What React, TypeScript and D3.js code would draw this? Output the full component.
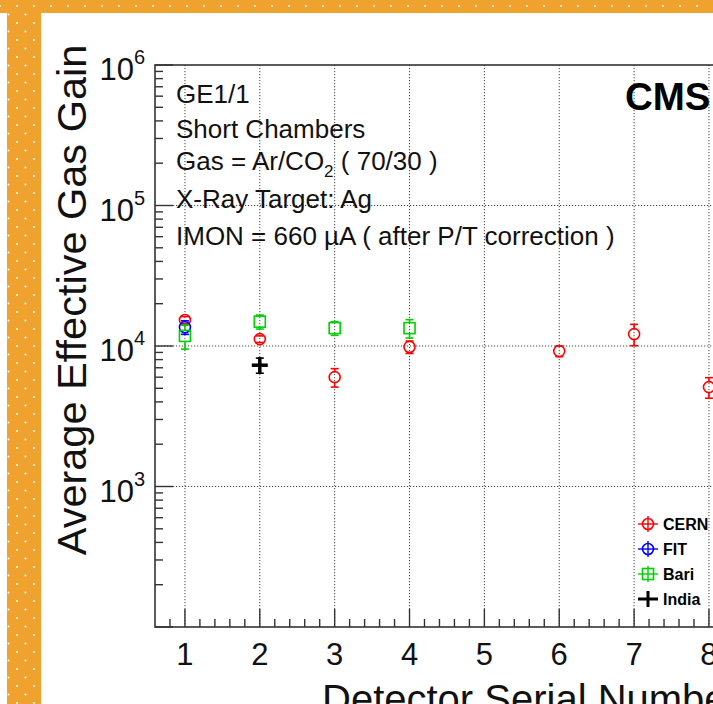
// @ts-nocheck
import { FC, useEffect, useRef } from "react";
import * as d3 from "d3";

// CERN chambers
const cernSerial = [1, 2, 3, 4, 6, 7, 8];
const cernGain = [15300, 11200, 6000, 9850, 9200, 12150, 5100];
const cernErr = [900, 600, 900, 1000, 800, 2100, 850];
// FIT
const fitSerial = [1];
const fitGain = [13600];
const fitErr = [1500];
// Bari
const bariSerial = [1, 2, 3, 4];
const bariGain = [11800, 14900, 13400, 13400];
const bariErr = [2300, 1700, 1500, 2000];
// India
const indiaSerial = [2];
const indiaGain = [7300];
const indiaErr = [900];

const xTickValues = [1, 2, 3, 4, 5, 6, 7, 8, 9];
const yDecades = [2, 3, 4, 5, 6];
const legendNames = ["CERN", "FIT", "Bari", "India"];

const App: FC = () => {
  const ref = useRef();
  const W = 713;
  const H = 704;

  useEffect(() => {
    const svg = d3.select(ref.current);
    svg.selectAll("*").remove();

    const font = "'Liberation Sans', Arial, Helvetica, sans-serif";
    const orange = "#F0A22E";

    // orange dotted border
    const defs = svg.append("defs");
    const pat = defs
      .append("pattern")
      .attr("id", "dots")
      .attr("patternUnits", "userSpaceOnUse")
      .attr("width", 17)
      .attr("height", 17)
      .attr("x", 0)
      .attr("y", 6);
    pat.append("rect").attr("width", 17).attr("height", 17).attr("fill", orange);
    [[0, 0], [17, 0], [0, 17], [17, 17], [8.5, 8.5]].forEach(([cx, cy]) =>
      pat.append("circle").attr("cx", cx).attr("cy", cy).attr("r", 1).attr("fill", "white")
    );

    svg.append("rect").attr("width", W).attr("height", H).attr("fill", "white");
    svg.append("rect").attr("x", 0).attr("y", 0).attr("width", W).attr("height", 13).attr("fill", "url(#dots)");
    svg.append("rect").attr("x", 7).attr("y", 0).attr("width", 34).attr("height", H).attr("fill", "url(#dots)");

    const left = 155;
    const top = 65;
    const bottom = 627;

    const x = d3.scaleLinear().domain([0.6, 9]).range([left, left + 8.4 * 74.86]);
    const y = d3.scaleLog().domain([1e2, 1e6]).range([bottom, top]);
    const right = x.range()[1];

    const g = svg.append("g");

    // grid (dotted)
    g.selectAll(".vgrid")
      .data(xTickValues)
      .join("line")
      .attr("x1", (d) => x(d))
      .attr("x2", (d) => x(d))
      .attr("y1", top)
      .attr("y2", bottom)
      .attr("stroke", "#444")
      .attr("stroke-width", 1)
      .attr("stroke-dasharray", "1.2,1.8");
    g.selectAll(".hgrid")
      .data([1e3, 1e4, 1e5])
      .join("line")
      .attr("x1", left)
      .attr("x2", right)
      .attr("y1", (d) => y(d))
      .attr("y2", (d) => y(d))
      .attr("stroke", "#444")
      .attr("stroke-width", 1)
      .attr("stroke-dasharray", "1.2,1.8");

    // frame
    g.append("rect")
      .attr("x", left)
      .attr("y", top)
      .attr("width", right - left)
      .attr("height", bottom - top)
      .attr("fill", "none")
      .attr("stroke", "#333")
      .attr("stroke-width", 1.6);

    // x ticks
    const xMinor = d3.range(0.8, 9, 0.2).filter((v) => Math.abs(v - Math.round(v)) > 0.01);
    g.selectAll(".xminor")
      .data(xMinor)
      .join("line")
      .attr("x1", (d) => x(d))
      .attr("x2", (d) => x(d))
      .attr("y1", bottom)
      .attr("y2", bottom - 8)
      .attr("stroke", "#333")
      .attr("stroke-width", 1.4);
    g.selectAll(".xmajor")
      .data(xTickValues)
      .join("line")
      .attr("x1", (d) => x(d))
      .attr("x2", (d) => x(d))
      .attr("y1", bottom)
      .attr("y2", bottom - 18)
      .attr("stroke", "#333")
      .attr("stroke-width", 1.4);
    g.selectAll(".xlab")
      .data(xTickValues)
      .join("text")
      .attr("x", (d) => x(d))
      .attr("y", 665)
      .attr("text-anchor", "middle")
      .attr("font-family", font)
      .attr("font-size", 31)
      .attr("fill", "#111")
      .text((d) => d);

    // y ticks (log)
    const yMinor = [];
    yDecades.slice(0, -1).forEach((e) => {
      for (let k = 2; k <= 9; k++) yMinor.push(k * Math.pow(10, e));
    });
    g.selectAll(".yminor")
      .data(yMinor)
      .join("line")
      .attr("x1", left)
      .attr("x2", left + 8)
      .attr("y1", (d) => y(d))
      .attr("y2", (d) => y(d))
      .attr("stroke", "#333")
      .attr("stroke-width", 1.4);
    g.selectAll(".ymajor")
      .data(yDecades)
      .join("line")
      .attr("x1", left)
      .attr("x2", left + 18)
      .attr("y1", (d) => y(Math.pow(10, d)))
      .attr("y2", (d) => y(Math.pow(10, d)))
      .attr("stroke", "#333")
      .attr("stroke-width", 1.4);
    const ylab = g
      .selectAll(".ylab")
      .data(yDecades.filter((d) => d >= 3))
      .join("text")
      .attr("x", 145)
      .attr("y", (d) => y(Math.pow(10, d)) + 15)
      .attr("text-anchor", "end")
      .attr("font-family", font)
      .attr("fill", "#111");
    ylab.append("tspan").attr("font-size", 31).text("10");
    ylab
      .append("tspan")
      .attr("font-size", 20)
      .attr("dy", -16)
      .text((d) => d);

    // axis titles
    g.append("text")
      .attr("transform", `translate(86, 300) rotate(-90)`)
      .attr("text-anchor", "middle")
      .attr("font-family", font)
      .attr("font-size", 41.5)
      .attr("fill", "#111")
      .text("Average Effective Gas Gain");
    g.append("text")
      .attr("x", 322)
      .attr("y", 713)
      .attr("font-family", font)
      .attr("font-size", 40)
      .attr("fill", "#111")
      .text("Detector Serial Number");

    // info text
    const info = g.append("g").attr("font-family", font).attr("font-size", 26).attr("fill", "#111");
    info.append("text").attr("x", 176).attr("y", 103).text("GE1/1");
    info.append("text").attr("x", 176).attr("y", 138).text("Short Chambers");
    const gas = info.append("text").attr("x", 176).attr("y", 170);
    gas.append("tspan").text("Gas = Ar/CO");
    gas.append("tspan").attr("font-size", 17).attr("dy", 7).text("2");
    gas.append("tspan").attr("dy", -7).text(" ( 70/30 )");
    info.append("text").attr("x", 176).attr("y", 208).text("X-Ray Target: Ag");
    info.append("text").attr("x", 176).attr("y", 245).text("IMON = 660 \u00B5A ( after P/T correction )");

    g.append("text")
      .attr("x", 625)
      .attr("y", 110)
      .attr("font-family", font)
      .attr("font-size", 38.5)
      .attr("font-weight", "bold")
      .attr("fill", "#000")
      .text("CMS");

    // markers
    const series = [
      { name: "CERN", color: "#ff0000", shape: "circle", serial: cernSerial, gain: cernGain, err: cernErr },
      { name: "FIT", color: "#0000ff", shape: "circle", serial: fitSerial, gain: fitGain, err: fitErr },
      { name: "Bari", color: "#00d000", shape: "square", serial: bariSerial, gain: bariGain, err: bariErr },
      { name: "India", color: "#000000", shape: "plus", serial: indiaSerial, gain: indiaGain, err: indiaErr },
    ];

    const drawMarker = (sel, shape, color, cx, cy) => {
      if (shape === "circle") {
        sel.append("circle").attr("cx", cx).attr("cy", cy).attr("r", 5.5)
          .attr("fill", "none").attr("stroke", color).attr("stroke-width", 1.6);
      } else if (shape === "square") {
        sel.append("rect").attr("x", cx - 5.5).attr("y", cy - 5.5).attr("width", 11).attr("height", 11)
          .attr("fill", "none").attr("stroke", color).attr("stroke-width", 1.6);
      } else {
        sel.append("line").attr("x1", cx - 8).attr("x2", cx + 8).attr("y1", cy).attr("y2", cy)
          .attr("stroke", color).attr("stroke-width", 3.5);
        sel.append("line").attr("x1", cx).attr("x2", cx).attr("y1", cy - 8).attr("y2", cy + 8)
          .attr("stroke", color).attr("stroke-width", 3.5);
      }
    };

    series.forEach((s) => {
      const sg = g.append("g");
      s.serial.forEach((sn, i) => {
        const cx = x(sn);
        const cy = y(s.gain[i]);
        const yHi = y(s.gain[i] + s.err[i]);
        const yLo = y(s.gain[i] - s.err[i]);
        const gap = s.shape === "plus" ? 0 : 5.5;
        if (cy - gap > yHi)
          sg.append("line").attr("x1", cx).attr("x2", cx).attr("y1", yHi).attr("y2", cy - gap)
            .attr("stroke", s.color).attr("stroke-width", 1.6);
        if (cy + gap < yLo)
          sg.append("line").attr("x1", cx).attr("x2", cx).attr("y1", cy + gap).attr("y2", yLo)
            .attr("stroke", s.color).attr("stroke-width", 1.6);
        [yHi, yLo].forEach((yy) =>
          sg.append("line").attr("x1", cx - 4).attr("x2", cx + 4).attr("y1", yy).attr("y2", yy)
            .attr("stroke", s.color).attr("stroke-width", 1.6)
        );
        drawMarker(sg, s.shape, s.color, cx, cy);
      });
    });

    // legend
    const lg = g.append("g");
    series.forEach((s, i) => {
      const ly = 524 + i * 25;
      const lx = 648;
      const sw = s.shape === "plus" ? 3 : 1.4;
      lg.append("line").attr("x1", lx - 10).attr("x2", lx + 10).attr("y1", ly).attr("y2", ly)
        .attr("stroke", s.color).attr("stroke-width", sw);
      lg.append("line").attr("x1", lx).attr("x2", lx).attr("y1", ly - 8).attr("y2", ly + 8)
        .attr("stroke", s.color).attr("stroke-width", sw);
      if (s.shape !== "plus") drawMarker(lg, s.shape, s.color, lx, ly);
      lg.append("text")
        .attr("x", 663)
        .attr("y", ly + 6)
        .attr("font-family", font)
        .attr("font-size", 16)
        .attr("font-weight", "bold")
        .attr("fill", "#000")
        .text(legendNames[i]);
    });
  }, []);

  return (
    <svg
      ref={ref}
      width={W}
      height={H}
      style={{ position: "absolute", left: 0, top: 0, display: "block" }}
    />
  );
};

export default App;
